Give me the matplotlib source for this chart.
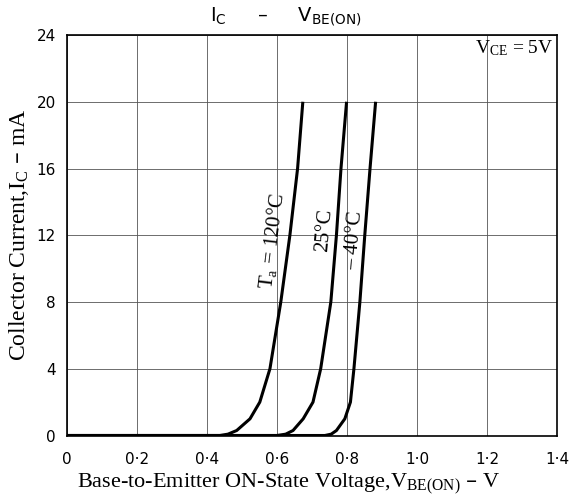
import matplotlib
matplotlib.use("Agg")
import matplotlib.pyplot as plt

# curves (V_BE in V, I_C in mA)
v_120 = [0, 0.437, 0.46, 0.485, 0.523, 0.551, 0.58, 0.611, 0.637, 0.659, 0.674]
i_120 = [0, 0, 0.08, 0.3, 1, 2, 4, 8, 12, 16, 20]
v_25 = [0, 0.6, 0.625, 0.646, 0.675, 0.703, 0.725, 0.754, 0.77, 0.783, 0.799]
i_25 = [0, 0, 0.08, 0.3, 1, 2, 4, 8, 12, 16, 20]
v_m40 = [0, 0.737, 0.755, 0.77, 0.794, 0.81, 0.82, 0.837, 0.851, 0.866, 0.882]
i_m40 = [0, 0, 0.08, 0.3, 1, 2, 4, 8, 12, 16, 20]

x_ticks = [0, 0.2, 0.4, 0.6, 0.8, 1.0, 1.2, 1.4]
x_labels = ["0", "0·2", "0·4", "0·6", "0·8", "1·0", "1·2", "1·4"]
y_ticks = [0, 4, 8, 12, 16, 20, 24]

plt.rcParams["mathtext.default"] = "regular"
serif = "Liberation Serif"

fig = plt.figure(figsize=(5.7, 4.98), dpi=100)
ax = fig.add_axes([0.1175, 0.1255, 0.8595, 0.8042])

for v, i in [(v_120, i_120), (v_25, i_25), (v_m40, i_m40)]:
    ax.plot(v, i, color="black", lw=2.2, solid_capstyle="butt", zorder=3)

ax.set_xlim(0, 1.4)
ax.set_ylim(0, 24)
ax.set_xticks(x_ticks)
ax.set_xticklabels(x_labels)
ax.set_yticks(y_ticks)
ax.tick_params(axis="x", length=0, labelsize=11, pad=12)
ax.tick_params(axis="y", length=0, labelsize=11, pad=8)
ax.grid(True, color="#555555", lw=0.6)
for s in ax.spines.values():
    s.set_linewidth(1.2)

fig.text(0.502, 0.966, "I$_C$     –     V$_{BE(ON)}$", fontsize=14,
         ha="center", va="center")
ax.set_xlabel("Base-to-Emitter ON-State Voltage,V$_{BE(ON)}$ – V",
              family=serif, fontsize=16)
ax.xaxis.set_label_coords(0.453, -0.09)
ax.set_ylabel("Collector Current,I$_C$ – mA", family=serif, fontsize=17, labelpad=4)

ax.text(1.389, 23.2, "V$_{CE}$ = 5V", family=serif, fontsize=14,
        ha="right", va="center")
ax.text(0.586, 11.65, "T$_a$ = 120°C", family=serif, fontsize=15,
        rotation=83, ha="center", va="center")
ax.text(0.737, 12.3, "25°C", family=serif, fontsize=15,
        rotation=85, ha="center", va="center")
ax.text(0.82, 11.7, "– 40°C", family=serif, fontsize=15,
        rotation=85, ha="center", va="center")

fig.savefig("out.png", dpi=100)
